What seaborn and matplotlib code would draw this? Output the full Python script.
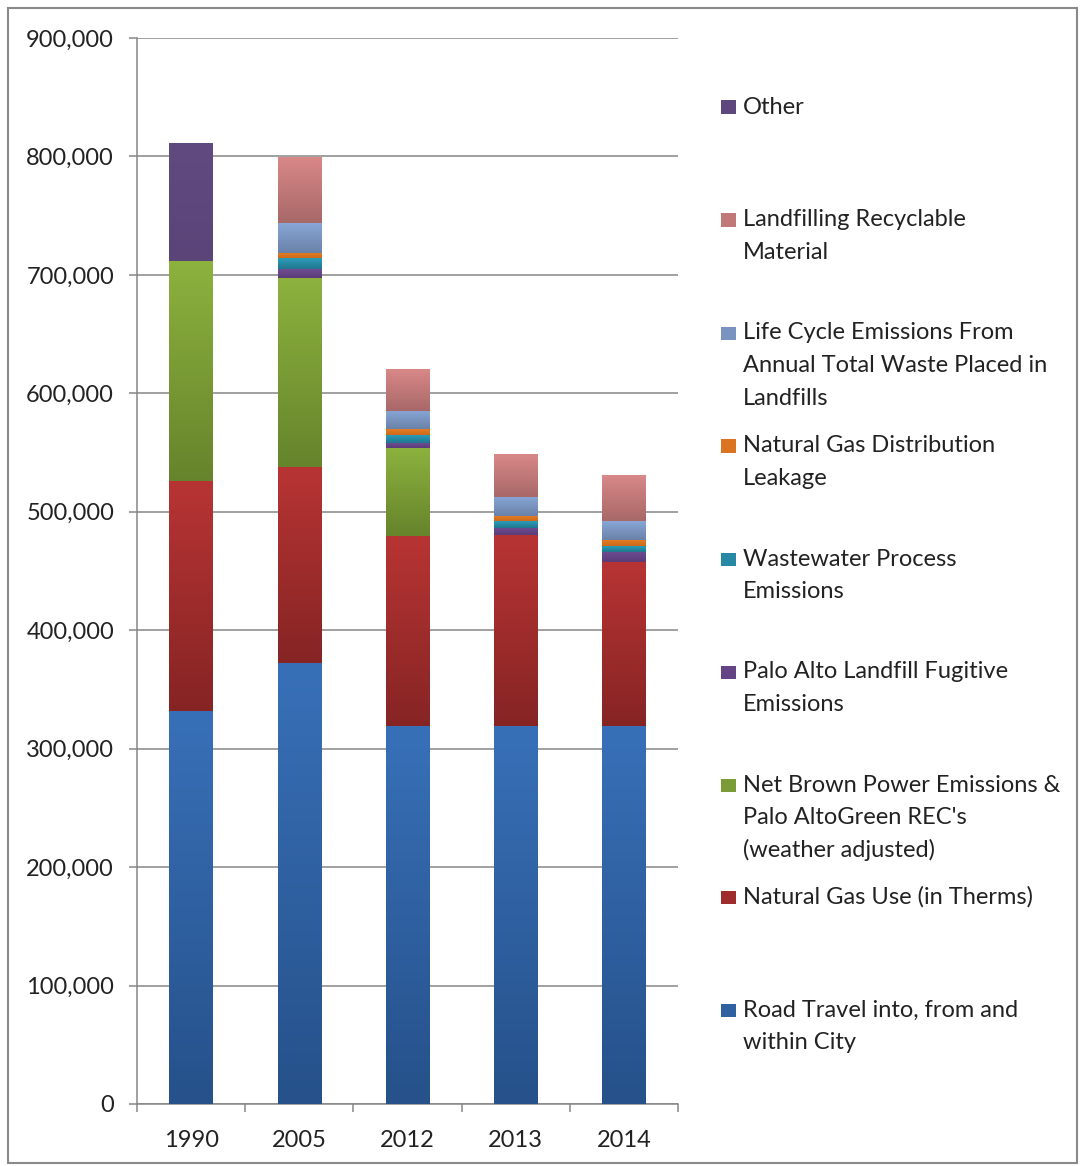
import numpy as np
import pandas as pd
import matplotlib
matplotlib.use("Agg")
import matplotlib.pyplot as plt
import seaborn as sns
from matplotlib.colors import LinearSegmentedColormap, to_rgb
from matplotlib.patches import Rectangle
from matplotlib.ticker import MultipleLocator, FuncFormatter, FixedLocator

# ---- data (metric tons CO2e) ----
years = ["1990", "2005", "2012", "2013", "2014"]

road_travel = [332000, 372000, 319000, 319000, 319000]
natural_gas_use = [194000, 165500, 160500, 161000, 138500]
net_brown_power = [186000, 160000, 74500, 0, 0]
landfill_fugitive = [0, 7300, 4200, 6500, 8500]
wastewater = [0, 9100, 6400, 5300, 4700]
gas_leakage = [0, 4400, 5400, 4300, 5100]
life_cycle_waste = [0, 25100, 15200, 16300, 16000]
landfilling_recyclable = [0, 54900, 34800, 36000, 38000]
other = [99300, 0, 0, 0, 0]

labels = [
    "Road Travel into, from and\nwithin City",
    "Natural Gas Use (in Therms)",
    "Net Brown Power Emissions &\nPalo AltoGreen REC's\n(weather adjusted)",
    "Palo Alto Landfill Fugitive\nEmissions",
    "Wastewater Process\nEmissions",
    "Natural Gas Distribution\nLeakage",
    "Life Cycle Emissions From\nAnnual Total Waste Placed in\nLandfills",
    "Landfilling Recyclable\nMaterial",
    "Other",
]
values = [road_travel, natural_gas_use, net_brown_power, landfill_fugitive,
          wastewater, gas_leakage, life_cycle_waste, landfilling_recyclable, other]

# (top, bottom) colours of each segment's vertical gradient
top_colors = ["#3870b8", "#b83434", "#8db23e", "#6e4c92", "#2c9cba",
              "#e97e26", "#88a6d6", "#d98888", "#614a80"]
bottom_colors = ["#26518a", "#862424", "#66842c", "#5a3c78", "#21768e",
                 "#cc6a1c", "#6a82a8", "#a86868", "#5a4478"]

# ---- styling ----
sns.set_theme(style="white")
plt.rcParams["font.family"] = ["Lato", "DejaVu Sans"]
text_color = "#222222"
axis_gray = "#868686"
font_size = 17

fig = plt.figure(figsize=(10.8, 11.66), dpi=100)
W, H = 1080, 1166
ax = fig.add_axes([137 / W, 1 - 1104 / H, (678 - 137) / W, (1104 - 38) / H])

bottoms = np.zeros(len(years))
for vals, top_c, bot_c in zip(values, top_colors, bottom_colors):
    df = pd.DataFrame({"year": years, "value": vals})
    n_before = len(ax.patches)
    sns.barplot(data=df, x="year", y="value", order=years, color=top_c,
                width=0.4, saturation=1, errorbar=None, ax=ax, zorder=3,
                linewidth=0)
    new_patches = ax.patches[n_before:]
    cmap = LinearSegmentedColormap.from_list("seg", [bot_c, top_c])
    for p, b in zip(new_patches, bottoms):
        p.set_y(b)
        h = p.get_height()
        if h <= 0:
            continue
        x0, w = p.get_x(), p.get_width()
        ax.imshow(np.linspace(0, 1, 256).reshape(-1, 1),
                  extent=[x0, x0 + w, b, b + h], origin="lower",
                  aspect="auto", cmap=cmap, interpolation="bilinear",
                  zorder=3.5)
    bottoms += np.asarray(vals, dtype=float)

ax.set_xlim(-0.5, len(years) - 0.5)
ax.set_ylim(0, 900000)
ax.set_xlabel("")
ax.set_ylabel("")

# axes, grid and ticks
ax.yaxis.set_major_locator(MultipleLocator(100000))
ax.yaxis.set_major_formatter(FuncFormatter(lambda v, _: f"{v:,.0f}"))
ax.yaxis.grid(True, color=axis_gray, linewidth=1.1)
ax.xaxis.grid(False)
ax.set_axisbelow(True)
for side in ["top", "right"]:
    ax.spines[side].set_visible(False)
for side in ["left", "bottom"]:
    ax.spines[side].set_color(axis_gray)
    ax.spines[side].set_linewidth(1.1)

ax.tick_params(axis="y", which="major", left=True, length=6, width=1.1,
               color=axis_gray, pad=10.5, labelsize=font_size,
               labelcolor=text_color)
ax.set_xticks(range(len(years)))
ax.set_xticklabels(years)
ax.xaxis.set_minor_locator(FixedLocator(np.arange(-0.5, len(years), 1.0)))
ax.tick_params(axis="x", which="major", bottom=True, length=0, pad=18.5,
               labelsize=font_size, labelcolor=text_color)
ax.tick_params(axis="x", which="minor", bottom=True, length=6, width=1.1,
               color=axis_gray)

# legend, top entry first
first_line_y = [107, 220, 333, 446, 559, 672, 785, 897, 1010]
line_step = 32.5
for i, idx in enumerate(range(len(labels) - 1, -1, -1)):
    y0 = first_line_y[i]
    c = np.mean([to_rgb(top_colors[idx]), to_rgb(bottom_colors[idx])], axis=0)
    fig.add_artist(Rectangle((721 / W, 1 - (y0 + 6.5) / H), 15 / W, 13 / H,
                             transform=fig.transFigure, facecolor=c,
                             edgecolor="none"))
    for j, line in enumerate(labels[idx].split("\n")):
        fig.text(743 / W, 1 - (y0 + j * line_step) / H, line, ha="left",
                 va="center", fontsize=font_size, color=text_color)

# chart frame
fig.add_artist(Rectangle((8 / W, 1 - 1163 / H), (1077 - 8) / W, (1163 - 8) / H,
                         transform=fig.transFigure, facecolor="none",
                         edgecolor="#8a8a8a", linewidth=1.5))

fig.savefig("out.png", dpi=100)
